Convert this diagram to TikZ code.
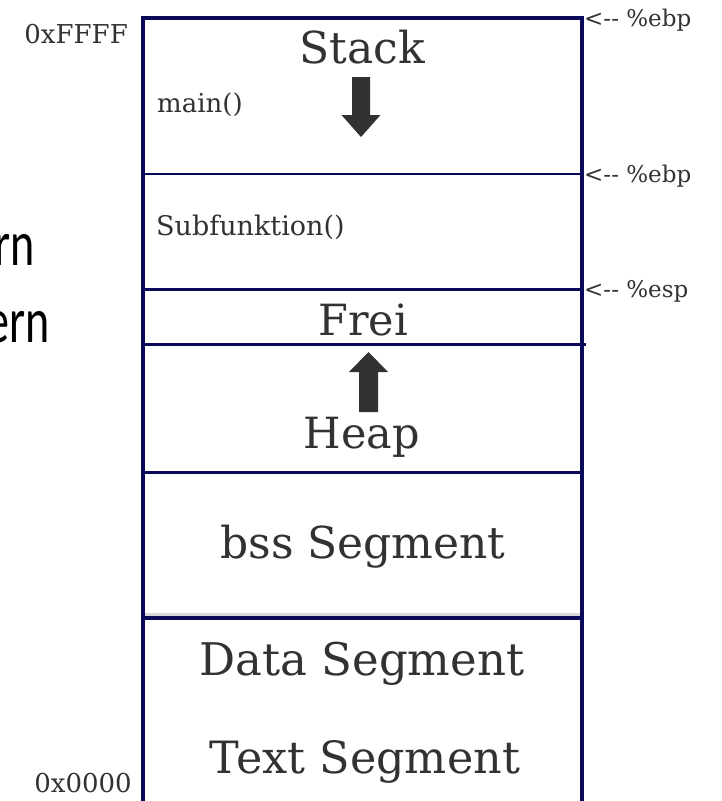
\documentclass[tikz,border=0pt]{standalone}
\usepackage{fontspec}
\setmainfont{DejaVu Serif}
\newfontfamily\sansf{Carlito}
\definecolor{navy}{RGB}{10,10,90}
\definecolor{txt}{RGB}{50,50,50}
\begin{document}
\begin{tikzpicture}[x=1pt,y=-1pt,
  lbl/.style={inner sep=0pt,text=txt},
  big/.style={lbl,anchor=base,font=\fontsize{43}{43}\selectfont},
  small/.style={lbl,anchor=base west,font=\fontsize{26}{26}\selectfont},
  addr/.style={lbl,anchor=base east,font=\fontsize{26}{26}\selectfont},
  reg/.style={lbl,anchor=base west,font=\fontsize{23}{23}\selectfont},
  cut/.style={inner sep=0pt,anchor=base east,font=\sansf\fontsize{64}{64}\selectfont},
  divider/.style={draw=navy,line width=3pt},
  blockarrow/.style={fill=txt}]
\useasboundingbox (0,0) rectangle (722,801);
\fill[white] (0,0) rectangle (722,801);
\clip (0,0) rectangle (722,801);
% light shadow above the lower divider
\draw[black!15,line width=3pt] (145,614) -- (580,614);
% dividers
\draw[divider,line width=2pt] (143,174) -- (582,174);
\draw[divider] (143,289) -- (582,289);
\draw[divider] (143,344.5) -- (586,344.5);
\draw[divider] (143,472.5) -- (582,472.5);
\draw[divider,line width=3.5pt] (143,618) -- (582,618);
% outer frame
\draw[navy,line width=3.5pt] (143,830) -- (143,18) -- (582,18) -- (582,830);
% block arrows
\fill[blockarrow] (352,77) -- (370,77) -- (370,115) -- (380.5,115) -- (361,137) -- (341.5,115) -- (352,115) -- cycle;
\fill[blockarrow] (359,412) -- (378,412) -- (378,372) -- (388,372) -- (368.5,352) -- (349,372) -- (359,372) -- cycle;
% texts in the segments
\node[big,font=\fontsize{44}{44}\selectfont] (stack) at (362,63) {Stack};
\node[small] (main) at (157,112) {main()};
\node[small,font=\fontsize{27}{27}\selectfont] (sub) at (156,235) {Subfunktion()};
\node[big] (frei) at (363,335) {Frei};
\node[big] (heap) at (362,448) {Heap};
\node[big,font=\fontsize{44}{44}\selectfont] (bss) at (363,558) {bss Segment};
\node[big,font=\fontsize{45}{45}\selectfont] (data) at (362,675) {Data Segment};
\node[big,font=\fontsize{44.5}{44.5}\selectfont] (text) at (365,773) {Text Segment};
% addresses
\node[addr] (hi) at (128,43) {0xFFFF};
\node[addr] (lo) at (132,792) {0x0000};
% registers
\node[reg] (ebp1) at (584,26) {<-{}- \%ebp};
\node[reg] (ebp2) at (584,182) {<-{}- \%ebp};
\node[reg] (esp) at (584,297) {<-{}- \%esp};
% cut-off text on the left
\node[cut] (rn) at (35,265) {\scalebox{0.72}[1]{rn}};
\node[cut] (ern) at (50,342) {\scalebox{0.72}[1]{ern}};
\end{tikzpicture}
\end{document}
